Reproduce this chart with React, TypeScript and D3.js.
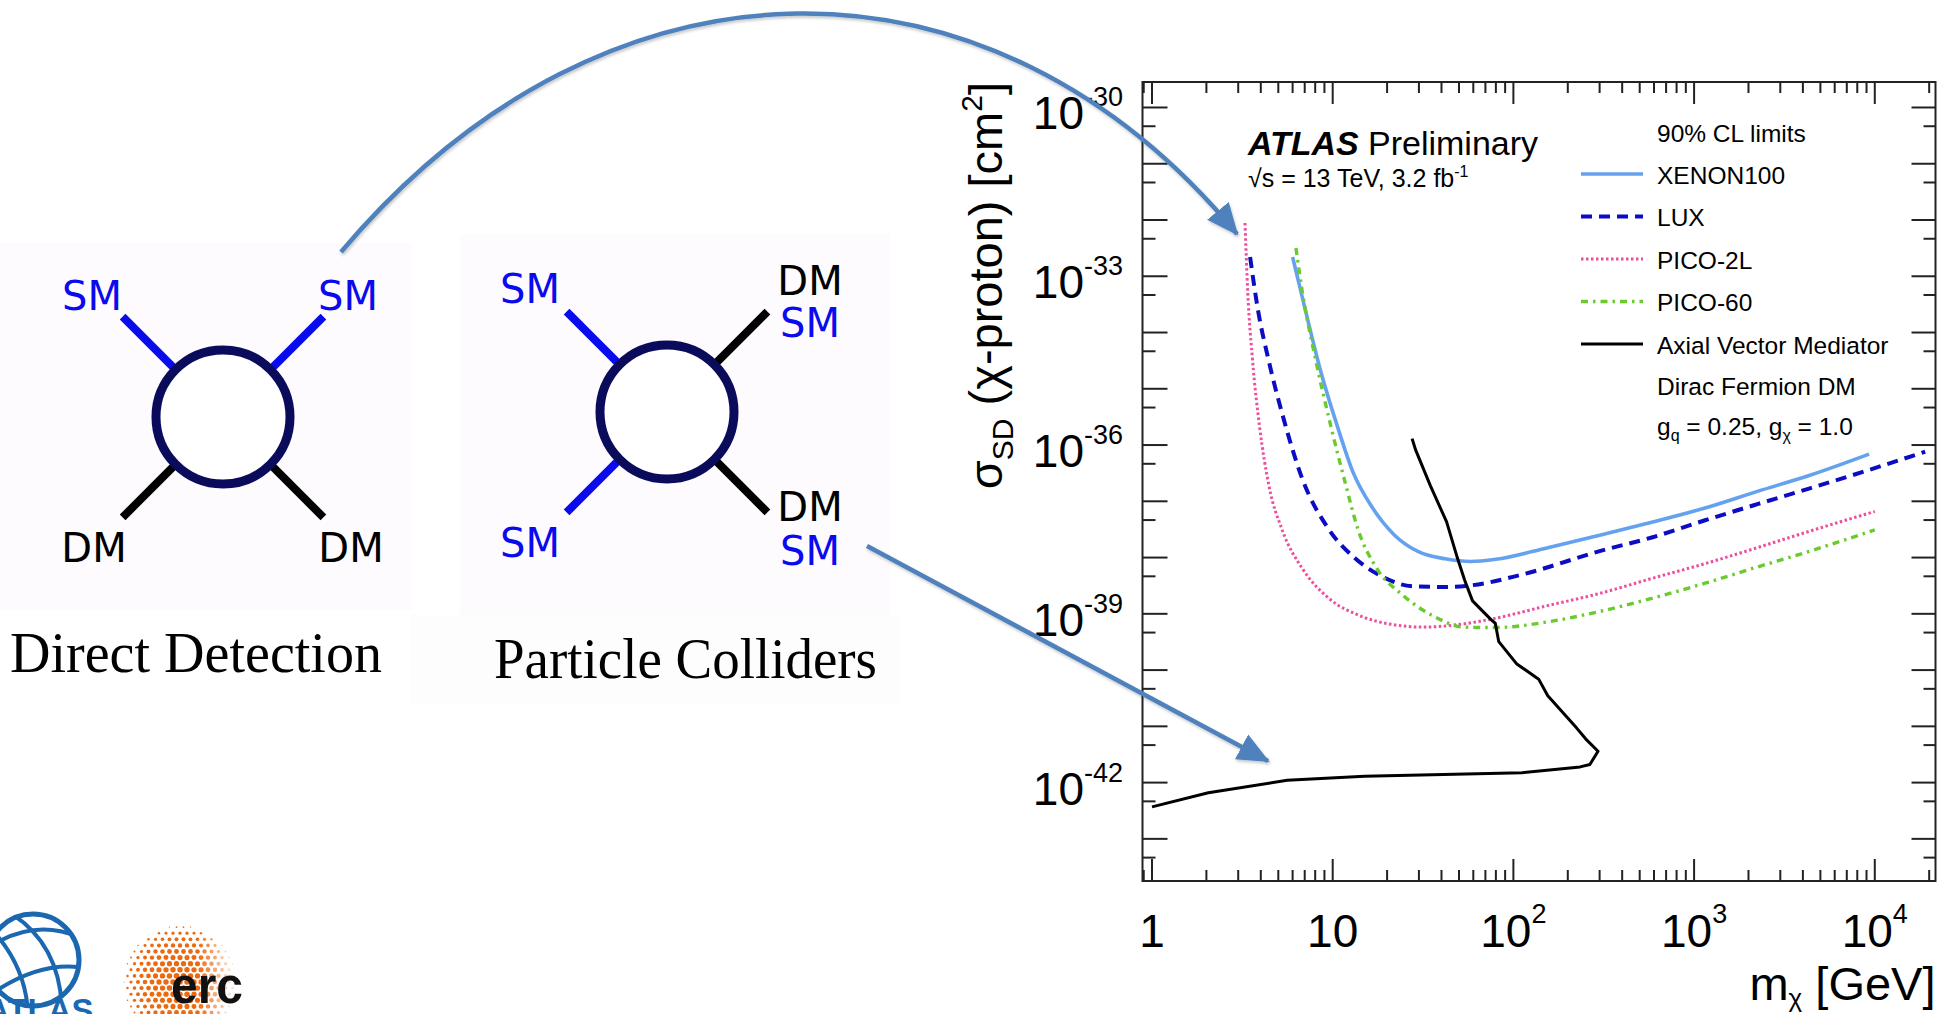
import * as d3 from "d3";

const W = 1951;
const H = 1014;
const FONT = "'Liberation Sans', Arial, Helvetica, sans-serif";

// dark matter mass [GeV] and spin-dependent cross-section [cm^2]
const xenonMass = [6.0, 7.0, 8.5, 10.5, 13, 16.5, 22, 30, 42, 58, 80, 155, 300, 590, 1150, 2240, 4370, 9300];
const xenonSigma = [2.2e-33, 2.8e-34, 2.3e-35, 2.4e-36, 3.2e-37, 7.9e-38, 2.5e-38, 1.26e-38, 9.5e-39, 8.5e-39, 9.3e-39, 1.5e-38, 2.5e-38, 4.3e-38, 7.6e-38, 1.5e-37, 2.9e-37, 6.9e-37];

const luxMass = [3.49, 3.86, 4.42, 5.37, 6.76, 9.5, 13.3, 18.5, 27.5, 41.3, 58, 112, 300, 590, 1150, 2240, 4370, 8500, 19000];
const luxSigma = [2.2e-33, 2.5e-34, 3.2e-35, 2.8e-36, 2.6e-37, 3.2e-38, 9.7e-39, 4.7e-39, 3.1e-39, 3.0e-39, 3.2e-39, 5.0e-39, 1.3e-38, 2.3e-38, 4.6e-38, 8.9e-38, 1.7e-37, 3.3e-37, 7.6e-37];

const pico2lMass = [3.27, 3.39, 3.6, 3.94, 4.44, 5.24, 6.81, 9.5, 14.2, 21.1, 31.6, 46.9, 79, 155, 300, 590, 1150, 2240, 4370, 10000];
const pico2lSigma = [8.85e-33, 5.0e-34, 3.25e-35, 2.1e-36, 1.87e-37, 3.16e-38, 6.3e-39, 1.9e-39, 9.2e-40, 6.5e-40, 5.8e-40, 6.3e-40, 8.3e-40, 1.4e-39, 2.3e-39, 4.3e-39, 7.8e-39, 1.5e-38, 2.95e-38, 6.6e-38];

const pico60Mass = [6.26, 6.81, 8.05, 9.79, 11.7, 13.8, 17.6, 24.2, 35.9, 53.8, 80.1, 155, 300, 590, 1150, 2240, 4370, 10000];
const pico60Sigma = [3.18e-33, 5.0e-34, 3.25e-35, 2.1e-36, 2.2e-37, 3.17e-38, 6.3e-39, 2.2e-39, 9.2e-40, 5.8e-40, 5.7e-40, 7.2e-40, 1.1e-39, 1.9e-39, 3.5e-39, 6.8e-39, 1.3e-38, 3.1e-38];

// axial vector mediator contour, in drawing order (top -> turning point -> low mass)
const axialMass = [27.5, 28.8, 34.7, 42.7, 49, 53.7, 59.4, 75.2, 79.4, 83, 104, 138, 155, 224, 251, 294, 265, 234, 112, 41, 15, 5.6, 2.05, 1];
const axialSigma = [1.3e-36, 8.1e-37, 1.9e-37, 4.3e-38, 9.8e-39, 4.0e-39, 1.7e-39, 7.9e-40, 6.8e-40, 3.2e-40, 1.3e-40, 6.9e-41, 3.5e-41, 9.3e-42, 6.0e-42, 3.6e-42, 2.1e-42, 1.9e-42, 1.5e-42, 1.4e-42, 1.3e-42, 1.1e-42, 6.6e-43, 3.7e-43];

const xMajor = [1, 10, 100, 1000, 10000];
const yMajorExp = [-43, -42, -41, -40, -39, -38, -37, -36, -35, -34, -33, -32, -31, -30];
const yLabelExp = [-42, -39, -36, -33, -30];

const legendTitle = "90% CL limits";
const legendNotes = ["Dirac Fermion DM"];

const series = [
  { name: "XENON100", mass: xenonMass, sigma: xenonSigma, color: "#64a2f0", width: 3.6, dash: "none", smooth: true },
  { name: "LUX", mass: luxMass, sigma: luxSigma, color: "#0c0cc4", width: 4, dash: "11 7", smooth: true },
  { name: "PICO-2L", mass: pico2lMass, sigma: pico2lSigma, color: "#ee4f9d", width: 3, dash: "2.5 2.5", smooth: true },
  { name: "PICO-60", mass: pico60Mass, sigma: pico60Sigma, color: "#6acb2e", width: 3.4, dash: "7 5 2.5 5", smooth: true },
  { name: "Axial Vector Mediator", mass: axialMass, sigma: axialSigma, color: "#000000", width: 3, dash: "none", smooth: false },
];

// plot frame
const left = 1142.5, right = 1935.5, top = 82, bottom = 881;
const x = d3.scaleLog().domain([Math.pow(10, -0.0526), Math.pow(10, 4.336)]).range([left, right]);
const y = d3.scaleLog().domain([Math.pow(10, -43.749), Math.pow(10, -29.547)]).range([bottom, top]);

function Feynman({ cx, cy, lines, labels }: any) {
  const r0 = 67, r1 = 142;
  const dirs = [[-1, -1], [1, -1], [-1, 1], [1, 1]];
  return (
    <g>
      {dirs.map((d, i) => (
        <line key={i}
          x1={cx + d[0] * r0 * 0.6} y1={cy + d[1] * r0 * 0.6}
          x2={cx + (d[0] * r1) / Math.SQRT2} y2={cy + (d[1] * r1) / Math.SQRT2}
          stroke={lines[i]} strokeWidth={8} />
      ))}
      <circle cx={cx} cy={cy} r={r0} fill="#fff" stroke="#0b0b5c" strokeWidth={9} />
      {labels.map((l: any, i: number) => (
        <text key={i} x={cx + l[0]} y={cy + l[1]} textAnchor="middle" fontSize={40}
          fontFamily="'DejaVu Sans', Verdana, sans-serif" fill={l[3]}>{l[2]}</text>
      ))}
    </g>
  );
}

function ErcLogo() {
  const cx = 180, cy = 982, R = 56;
  const dots: any[] = [];
  d3.range(-9, 10).forEach((j) => {
    d3.range(-9, 10).forEach((i) => {
      const px = cx + i * 7 + (j % 2 ? 3.5 : 0);
      const py = cy + j * 6.1;
      const d = Math.hypot(px - cx, py - cy);
      if (d > R) return;
      const rr = 0.5 + 2.3 * Math.sqrt(1 - (d / R) * (d / R));
      const op = px > cx + 18 ? Math.max(0.22, 1 - (px - cx - 18) / 40) : 1;
      dots.push({ px, py, rr, op });
    });
  });
  return (
    <g>
      {dots.map((d, i) => (
        <circle key={i} cx={d.px} cy={d.py} r={d.rr} fill="#eb6a10" opacity={d.op} />
      ))}
      <text x={171} y={1003} fontSize={52} fontWeight="bold" fontFamily={FONT} textLength={72}
        lengthAdjust="spacingAndGlyphs" fill="#111">erc</text>
    </g>
  );
}

function AtlasLogo() {
  return (
    <g stroke="#1b68b0" fill="none">
      <defs>
        <clipPath id="globe"><circle cx={33} cy={960} r={46} /></clipPath>
      </defs>
      <circle cx={33} cy={960} r={46} strokeWidth={5} />
      <g clipPath="url(#globe)" strokeWidth={4}>
        <path d="M -15,950 Q 35,915 85,940" />
        <path d="M -10,995 Q 40,960 85,968" />
        <path d="M 12,914 Q 60,945 62,1010" />
        <path d="M -8,930 Q 25,965 28,1012" />
      </g>
      <text x={-14} y={1022} fontSize={33} fontWeight="bold" fontFamily={FONT} fill="#1b68b0" stroke="none">ATLAS</text>
    </g>
  );
}

export default function App() {
  const line = d3.line<[number, number]>().x((d) => x(d[0])).y((d) => y(d[1]));

  const xMinor: number[] = [];
  [0.1, 1, 10, 100, 1000, 10000].forEach((dec) =>
    d3.range(2, 10).forEach((k) => {
      const v = dec * k;
      if (v > x.domain()[0] && v < x.domain()[1]) xMinor.push(v);
    })
  );
  const yMinor = yMajorExp.map((e) => Math.pow(10, e - 1 / 3)).filter((v) => v > y.domain()[0]);

  const legendY0 = 174, legendStep = 42.5;

  return (
    <svg width={W} height={H} style={{ position: "absolute", left: 0, top: 0, background: "#fff" }}>
      <defs>
        <clipPath id="frame"><rect x={left} y={top} width={right - left} height={bottom - top} /></clipPath>
        <marker id="head" markerUnits="userSpaceOnUse" markerWidth={34} markerHeight={32}
          viewBox="0 -16 34 32" refX={30} refY={0} orient="auto">
          <path d="M0,-14 L32,0 L0,14 Z" fill="#4f81bd" />
        </marker>
        <filter id="shadow" x="-10%" y="-10%" width="120%" height="130%">
          <feDropShadow dx={1} dy={2} stdDeviation={1.5} floodColor="#000" floodOpacity={0.22} />
        </filter>
      </defs>

      {/* diagram panels */}
      <rect x={0} y={243} width={412} height={367} fill="#fdfbfd" />
      <rect x={460} y={234} width={430} height={384} fill="#fdfbfd" />
      <rect x={410} y={615} width={490} height={90} fill="#fefdfe" />

      <Feynman cx={223} cy={417} lines={["#0a0aee", "#0a0aee", "#000", "#000"]}
        labels={[[-131, -107, "SM", "#0a0aee"], [125, -107, "SM", "#0a0aee"], [-129, 145, "DM", "#000"], [128, 145, "DM", "#000"]]} />
      <Feynman cx={667} cy={412} lines={["#0a0aee", "#000", "#0a0aee", "#000"]}
        labels={[[-137, -109, "SM", "#0a0aee"], [143, -117, "DM", "#000"], [143, -75, "SM", "#0a0aee"],
          [-137, 145, "SM", "#0a0aee"], [143, 109, "DM", "#000"], [143, 153, "SM", "#0a0aee"]]} />

      <text x={10} y={672} fontSize={56} fontFamily="'Liberation Serif', 'Times New Roman', serif"
        textLength={372} lengthAdjust="spacingAndGlyphs">Direct Detection</text>
      <text x={494} y={678} fontSize={56} fontFamily="'Liberation Serif', 'Times New Roman', serif"
        textLength={383} lengthAdjust="spacingAndGlyphs">Particle Colliders</text>

      {/* plot */}
      <rect x={left} y={top} width={right - left} height={bottom - top} fill="#fff" />
      <g clipPath="url(#frame)" fill="none">
        {series.map((s) => (
          <path key={s.name}
            d={line.curve(s.smooth ? d3.curveMonotoneX : d3.curveLinear)(d3.zip(s.mass, s.sigma) as [number, number][]) || ""}
            stroke={s.color} strokeWidth={s.width} strokeDasharray={s.dash} strokeLinejoin="round" />
        ))}
      </g>

      <g stroke="#222" strokeWidth={2}>
        <rect x={left} y={top} width={right - left} height={bottom - top} fill="none" />
        {xMajor.map((v) => (
          <g key={v}>
            <line x1={x(v)} x2={x(v)} y1={bottom} y2={bottom - 22} />
            <line x1={x(v)} x2={x(v)} y1={top} y2={top + 22} />
          </g>
        ))}
        {xMinor.map((v) => (
          <g key={v}>
            <line x1={x(v)} x2={x(v)} y1={bottom} y2={bottom - 11} />
            <line x1={x(v)} x2={x(v)} y1={top} y2={top + 11} />
          </g>
        ))}
        {yMajorExp.map((e) => (
          <g key={e}>
            <line x1={left} x2={left + 25} y1={y(Math.pow(10, e))} y2={y(Math.pow(10, e))} />
            <line x1={right} x2={right - 24} y1={y(Math.pow(10, e))} y2={y(Math.pow(10, e))} />
          </g>
        ))}
        {yMinor.map((v, i) => (
          <g key={i}>
            <line x1={left} x2={left + 13} y1={y(v)} y2={y(v)} />
            <line x1={right} x2={right - 12} y1={y(v)} y2={y(v)} />
          </g>
        ))}
      </g>

      <g fontFamily={FONT} fill="#000">
        {yLabelExp.map((e) => (
          <text key={e} x={1123} y={y(Math.pow(10, e)) + 22} textAnchor="end" fontSize={46}>
            10<tspan fontSize={27} dy={-23}>{String(e)}</tspan>
          </text>
        ))}
        {xMajor.map((v) => {
          const e = Math.round(Math.log10(v));
          return (
            <text key={v} x={x(v)} y={947} textAnchor="middle" fontSize={46}>
              {e < 2 ? String(v) : "10"}
              {e >= 2 && <tspan fontSize={27} dy={-24}>{e}</tspan>}
            </text>
          );
        })}
        <text x={right} y={1000} textAnchor="end" fontSize={47}>
          m<tspan fontSize={26} dy={7}>χ</tspan><tspan dy={-7}> [GeV]</tspan>
        </text>
        <text transform="translate(1002,82) rotate(-90)" textAnchor="end" fontSize={47}>
          σ<tspan fontSize={30} dy={11}>SD</tspan><tspan dy={-11}> (χ-proton) [cm</tspan>
          <tspan fontSize={30} dy={-20}>2</tspan><tspan dy={20}>]</tspan>
        </text>

        <text x={1248} y={155} fontSize={34}>
          <tspan fontWeight="bold" fontStyle="italic">ATLAS</tspan>
          <tspan x={1368}>Preliminary</tspan>
        </text>
        <text x={1248} y={187} fontSize={25}>
          √s = 13 TeV, 3.2 fb<tspan fontSize={16} dy={-10}>-1</tspan>
        </text>

        <text x={1657} y={142} fontSize={24.5}>{legendTitle}</text>
        {series.map((s, i) => (
          <g key={s.name}>
            <line x1={1581} x2={1643} y1={legendY0 + i * legendStep} y2={legendY0 + i * legendStep}
              stroke={s.color} strokeWidth={s.width} strokeDasharray={s.dash} />
            <text x={1657} y={legendY0 + i * legendStep + 9.5} fontSize={24.5}>{s.name}</text>
          </g>
        ))}
        {legendNotes.map((n, i) => (
          <text key={n} x={1657} y={395 + i * 40} fontSize={24.5}>{n}</text>
        ))}
        <text x={1657} y={435} fontSize={24.5}>
          g<tspan fontSize={16} dy={6}>q</tspan><tspan dy={-6}> = 0.25, g</tspan>
          <tspan fontSize={16} dy={6}>χ</tspan><tspan dy={-6}> = 1.0</tspan>
        </text>
      </g>

      {/* arrows */}
      <g fill="none" stroke="#4f81bd" strokeWidth={4.5} filter="url(#shadow)">
        <path d="M341,252 C607,-63 992,-63 1237,234" markerEnd="url(#head)" />
        <path d="M867,546 L1268,761" markerEnd="url(#head)" />
      </g>

      <AtlasLogo />
      <ErcLogo />
    </svg>
  );
}
